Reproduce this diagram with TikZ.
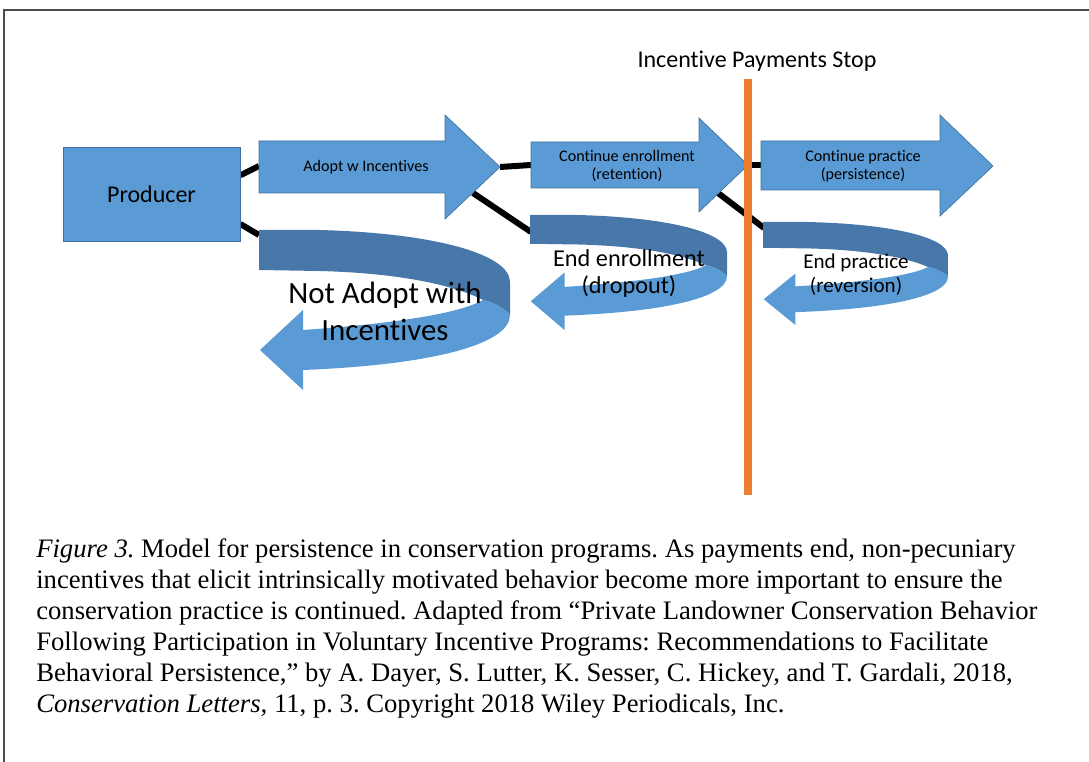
\documentclass[tikz,border=0pt]{standalone}
\usepackage{fontspec}
\setmainfont{Liberation Serif}[Ligatures=TeX]
\newfontfamily\officefont{Carlito}[Ligatures=NoCommon]
\usepackage{xcolor}
\definecolor{OfficeBlue}{HTML}{5B9BD5}
\definecolor{OfficeEdge}{HTML}{41719C}
\definecolor{OfficeShade}{HTML}{4778A9}
\definecolor{OfficeOrange}{HTML}{ED7D31}

\begin{document}
\begin{tikzpicture}[
    x=0.75pt, y=-0.75pt,
    block/.style={fill=OfficeBlue, draw=OfficeEdge, line width=0.5pt},
    backband/.style={fill=OfficeShade},
    frontband/.style={fill=OfficeBlue},
    link/.style={line width=4.5pt},
    tag/.style={font=\officefont, align=center, inner sep=0pt},
    uturn/.pic={
        % back half of the band
        \fill[backband] (0,0) -- (60,0) .. controls (175,3) and (251,24) .. (251,52)
            -- (251,85) .. controls (245,78) and (236,73) .. (224,70)
            .. controls (195,55) and (140,43) .. (60,41) -- (0,40) -- cycle;
        % front half with the head
        \fill[frontband] (224,70) .. controls (236,73) and (245,78) .. (251,85)
            .. controls (251,115) and (170,135) .. (44,140)
            -- (44,160) -- (1,120) -- (44,80) -- (44,100)
            .. controls (130,94) and (200,84) .. (224,70) -- cycle;
    },
]
\useasboundingbox (0,0) rectangle (1089,762);

% Frame
\draw[black!70, line width=0.9pt] (4,762) -- (4,10) -- (1089,10);

% Anchor points of the links
\coordinate (adopt tail) at (259,166);
\coordinate (adopt tip) at (500,167);
\coordinate (adopt low) at (473,193);
\coordinate (enrol tail) at (531,165);
\coordinate (enrol tip) at (748,165);
\coordinate (enrol low) at (718,193);
\coordinate (practice tail) at (761,165);
\coordinate (nadopt in) at (259,235);
\coordinate (dropout in) at (531,232);
\coordinate (reversion in) at (764,228);

\node[block, minimum width=132.75pt, minimum height=70.5pt, inner sep=0pt] (producer) at (151.5,194) {};

% Links
\draw[link] ([yshift=14pt]producer.east) -- (adopt tail);
\draw[link] ([yshift=-22.5pt]producer.east) -- (nadopt in);
\draw[link] (adopt tip) -- (enrol tail);
\draw[link] (adopt low) -- (dropout in);
\draw[link] (enrol tip) -- (practice tail);
\draw[link] (enrol low) -- (reversion in);

% Producer on top of the link ends
\node[block, minimum width=132.75pt, minimum height=70.5pt, inner sep=0pt,
      font=\officefont\fontsize{18}{20}\selectfont] at (producer) {Producer};

% U-turns
\pic at (259,230) {uturn};
\pic[xscale=0.785, yscale=0.719] at (530,215) {uturn};
\pic[xscale=0.737, yscale=0.644] at (763,222) {uturn};

% Block arrows
\filldraw[block] (259,141) -- (445,141) -- (445,115) -- (500,167) -- (445,219) -- (445,193) -- (259,193) -- cycle;
\filldraw[block] (531,142) -- (699,142) -- (699,118) -- (748,165) -- (699,212) -- (699,188) -- (531,188) -- cycle;
\filldraw[block] (761,141) -- (940,141) -- (940,115) -- (993,166) -- (940,216) -- (940,190) -- (761,190) -- cycle;

% Texts
\node[tag, font=\officefont\fontsize{12.1}{13.5}\selectfont] (adopt) at (366,167) {Adopt w Incentives};
\node[tag, font=\officefont\fontsize{12.1}{13.5}\selectfont] (retention) at (627,166) {Continue enrollment\\(retention)};
\node[tag, font=\officefont\fontsize{12.1}{13.5}\selectfont] (persistence) at (863,166.5) {Continue practice\\(persistence)};
\node[tag, font=\officefont\fontsize{23.2}{27.7}\selectfont] (nadopt) at (385,311.5) {Not Adopt with\\Incentives};
\node[tag, font=\officefont\fontsize{18.2}{20.2}\selectfont] (dropout) at (629,273.5) {End enrollment\\(dropout)};
\node[tag, font=\officefont\fontsize{15.8}{18}\selectfont] (reversion) at (856,275) {End practice\\(reversion)};

% Payments stop
\node[tag, font=\officefont\fontsize{18}{20}\selectfont] (stop) at (757,61) {Incentive Payments Stop};
\coordinate (cut top) at (748,79);
\coordinate (cut bot) at (748,495);
\draw[OfficeOrange, line width=6pt] (cut top) -- (cut bot);

% Caption
\node[anchor=north west, inner sep=0pt, align=left, font=\fontsize{20}{23.25}\selectfont\frenchspacing] (caption) at (36,538)
    {\textit{Figure 3.} Model for persistence in conservation programs. As payments end, non-pecuniary\\
     incentives that elicit intrinsically motivated behavior become more important to ensure the\\
     conservation practice is continued. Adapted from ``Private Landowner Conservation Behavior\\
     Following Participation in Voluntary Incentive Programs: Recommendations to Facilitate\\
     Behavioral Persistence,'' by A. Dayer, S. Lutter, K. Sesser, C. Hickey, and T. Gardali, 2018,\\
     \textit{Conservation Letters,} 11, p. 3. Copyright 2018 Wiley Periodicals, Inc.};

\end{tikzpicture}
\end{document}
